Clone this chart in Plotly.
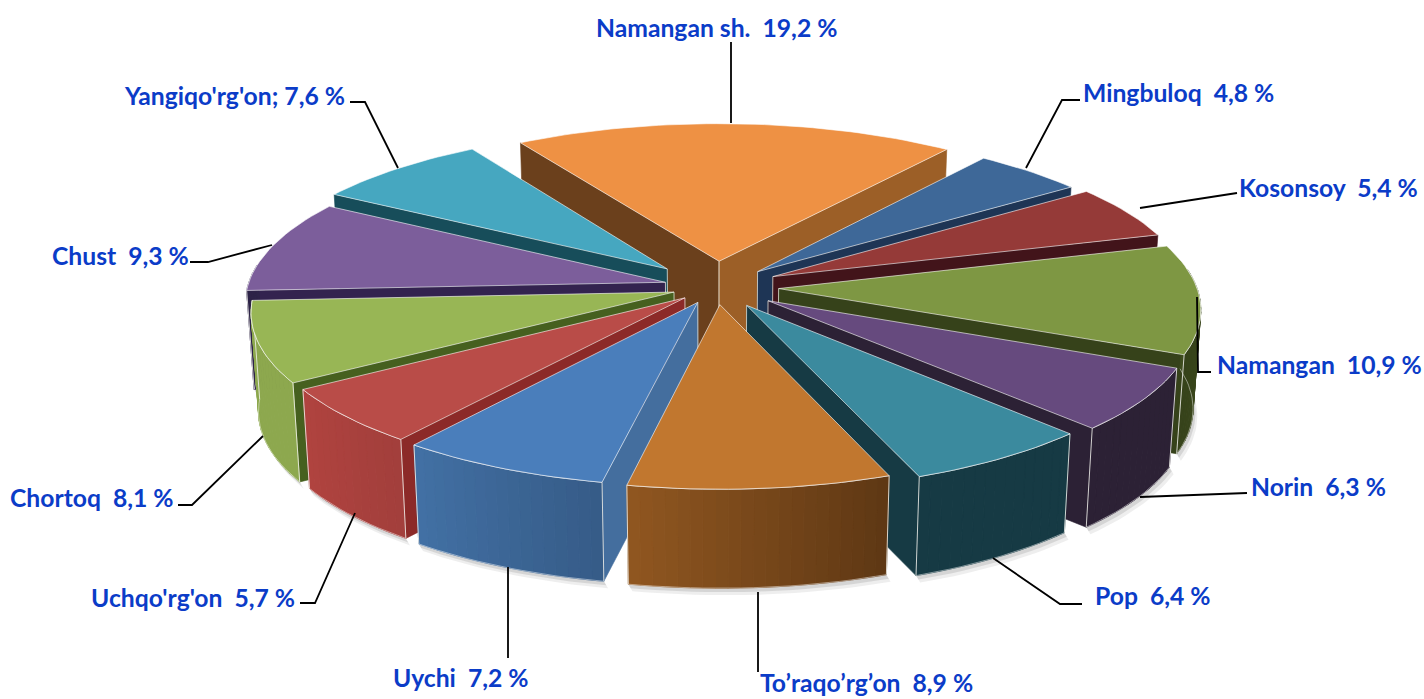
import math
import plotly.graph_objects as go

names = ["Namangan sh.", "Mingbuloq", "Kosonsoy", "Namangan", "Norin", "Pop",
         "To’raqo’rg’on", "Uychi", "Uchqo'rg'on", "Chortoq", "Chust", "Yangiqo'rg'on;"]
values = [19.2, 4.8, 5.4, 10.9, 6.3, 6.4, 8.9, 7.2, 5.7, 8.1, 9.3, 7.6]
pull = [0.165, 0.14, 0.152, 0.15, 0.15, 0.135, 0.11, 0.105, 0.10, 0.105, 0.125, 0.165]

top_colors = ["#EE9144", "#3E6898", "#953A38", "#7E9743", "#664A7E", "#3B8A9E",
              "#C1772F", "#4A7EBB", "#B94C48", "#98B655", "#7C5E9B", "#46A7C0"]
wall_start = ["#6B401C", "#1E3555", "#42141A", "#36421A", "#2C2135", "#163A44",
              "#8C5521", "#446E9E", "#8C2A28", "#46601F", "#33234F", "#174D5A"]
wall_end = ["#9C5F27", "#1E3555", "#42141A", "#36421A", "#2C2135", "#163A44",
            "#5E3611", "#365A85", "#8C2A28", "#46601F", "#33234F", "#174D5A"]
outer_a = ["#9C5F27", "#1E3555", "#42141A", "#3E4C1E", "#2C2135", "#163A44",
           "#5F3814", "#365C88", "#A33F3C", "#8DA84E", "#2E2448", "#174D5A"]
outer_b = ["#9C5F27", "#1E3555", "#42141A", "#36421A", "#2C2135", "#163A44",
           "#8F5620", "#4270A4", "#B0433F", "#8DA84E", "#2E2448", "#174D5A"]

label_x = [716.5, 1178.5, 1328.5, 1319, 1318, 1153, 866.5, 461, 193, 92, 120.5, 234.5]
label_y = [27, 92, 187, 364, 486, 595, 682, 677, 597, 497, 255, 95]
leaders = [
    [(731, 42), (731, 123)],
    [(1080, 100), (1062, 100), (1026, 168)],
    [(1237, 193), (1140, 208)],
    [(1197, 297), (1198, 372), (1211, 372)],
    [(1247, 493), (1140, 497)],
    [(1082, 604), (1060, 604), (993, 558)],
    [(758, 592), (758, 672)],
    [(508, 567), (508, 658)],
    [(355, 513), (315, 603), (300, 603)],
    [(263, 436), (192, 505), (178, 505)],
    [(272, 245), (208, 262), (190, 262)],
    [(398, 168), (365, 102), (350, 102)],
]

START = -32.0
CX, CY, R, RC, H, D, SHRINK = 716.0, 287.0, 418.0, 159.0, 99.0, 8.7, 0.984


def project(x, y, z=0.0):
    s = D / (D - y)
    k = 1.0 - (1.0 - SHRINK) * z
    return CX + R * x * s * k, CY + RC * y * s + H * z


def mix(a, b, t):
    pa = [int(a[i:i + 2], 16) for i in (1, 3, 5)]
    pb = [int(b[i:i + 2], 16) for i in (1, 3, 5)]
    return "#%02x%02x%02x" % tuple(round(p + (q - p) * t) for p, q in zip(pa, pb))


fig = go.Figure()


def poly(pts, color, line=None, lw=0.6, opacity=1.0):
    fig.add_trace(go.Scatter(x=[p[0] for p in pts] + [pts[0][0]], y=[p[1] for p in pts] + [pts[0][1]],
                             mode="lines", fill="toself", fillcolor=color, opacity=opacity,
                             line=dict(color=line or color, width=lw), hoverinfo="skip", showlegend=False))


def path(pts, color, lw):
    fig.add_trace(go.Scatter(x=[p[0] for p in pts], y=[p[1] for p in pts], mode="lines",
                             line=dict(color=color, width=lw), hoverinfo="skip", showlegend=False))


total = sum(values)
slices = []
acc = START
for i, v in enumerate(values):
    a0 = acc
    a1 = acc + v / total * 360.0
    acc = a1
    slices.append((i, a0, a1))

order = sorted(slices, key=lambda s: -math.cos(math.radians((s[1] + s[2]) / 2)))

for i, a0, a1 in order:
    mid = math.radians((a0 + a1) / 2)
    ex, ey = pull[i] * math.sin(mid), -pull[i] * math.cos(mid)


    def rim(a, z=0.0):
        r = math.radians(a)
        return project(ex + math.sin(r), ey - math.cos(r), z)


    apex, apexb = project(ex, ey), project(ex, ey, 1)

    steps = max(2, int((a1 - a0) / 1.5))
    angs = [a0 + (a1 - a0) * k / steps for k in range(steps + 1)]

    # soft shadow below the outer wall
    vis = [a for a in angs if math.cos(math.radians(a)) < 0.12]
    if len(vis) > 1:
        for off, op in ((7, 0.10), (4, 0.16)):
            poly([(rim(a, 1)[0] + off * 0.6, rim(a, 1)[1] + off) for a in vis] +
                 [rim(a, 1) for a in reversed(vis)], "#555555", lw=0, opacity=op)

    # radial walls that face the viewer
    if math.sin(math.radians(a0)) < 0.02:
        poly([apex, rim(a0), rim(a0, 1), apexb], wall_start[i])
        path([apex, apexb], "rgba(235,235,225,0.75)", 1)
    if math.sin(math.radians(a1)) > -0.02:
        poly([apex, rim(a1), rim(a1, 1), apexb], wall_end[i])
        path([apex, apexb], "rgba(235,235,225,0.75)", 1)

    # outer wall as narrow shaded strips
    if len(vis) > 1:
        n = len(vis) - 1
        for k in range(n):
            c = mix(outer_a[i], outer_b[i], k / max(1, n - 1))
            poly([rim(vis[k]), rim(vis[k + 1]), rim(vis[k + 1], 1), rim(vis[k], 1)], c, lw=1.0)
        path([rim(a) for a in vis], "rgba(255,255,255,0.7)", 1)
        path([rim(a, 1) for a in vis], "rgba(255,255,255,0.45)", 1)

    # vertical corner edges
    for a in (a0, a1):
        if math.cos(math.radians(a)) < 0.12:
            path([rim(a), rim(a, 1)], "rgba(240,240,235,0.85)", 1)

    # top face
    poly([apex] + [rim(a) for a in angs], top_colors[i], line="rgba(255,255,255,0.6)", lw=1)

for pts in leaders:
    path(pts, "#000000", 1.8)

annotations = []
for i, name in enumerate(names):
    val = f"{values[i]:.1f}".replace(".", ",")
    sep = "\u00a0" if name.endswith(";") else "\u00a0\u00a0"
    annotations.append(dict(x=label_x[i], y=label_y[i], xref="x", yref="y", showarrow=False,
                            text=f"<b>{name}{sep}{val}\u00a0%</b>",
                            font=dict(family="Lato", size=24.7, color="#0B3CC8")))

fig.update_layout(
    width=1424, height=699, margin=dict(l=0, r=0, t=0, b=0),
    paper_bgcolor="white", plot_bgcolor="white", showlegend=False, annotations=annotations,
    xaxis=dict(range=[0, 1424], visible=False, fixedrange=True),
    yaxis=dict(range=[699, 0], visible=False, fixedrange=True),
)
fig.write_html("out.html", config={"displayModeBar": False},
               post_script="document.body.style.margin='0';document.body.style.overflow='hidden';")
